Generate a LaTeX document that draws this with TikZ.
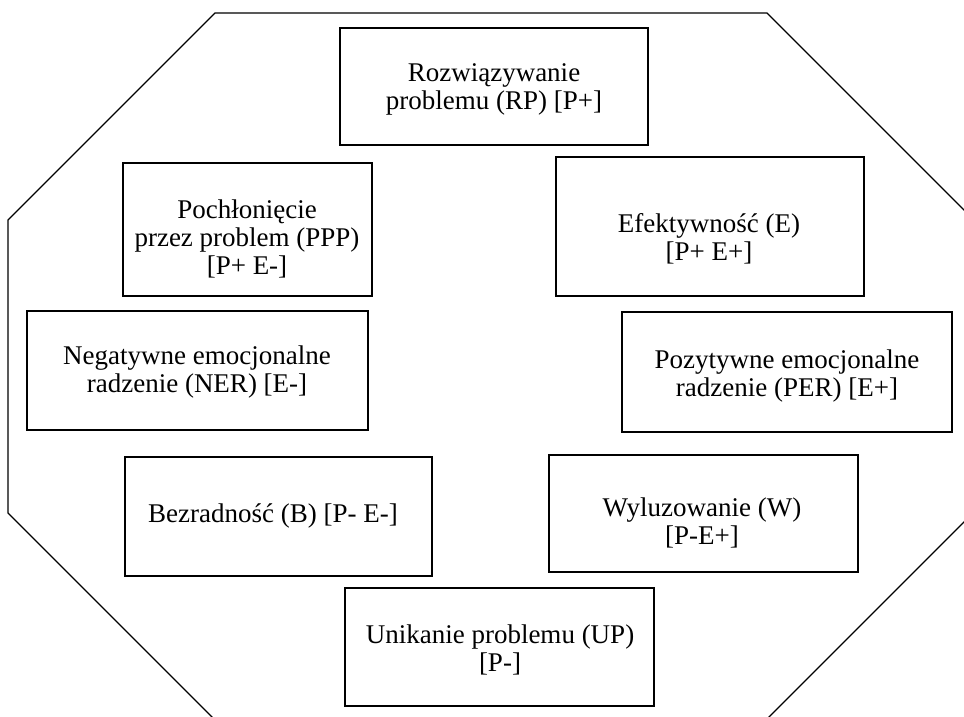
\documentclass[tikz,border=0pt]{standalone}
\usepackage{fontspec}
\setmainfont{Liberation Serif}
\begin{document}
\begin{tikzpicture}[x=1pt,y=-1pt,
  boxst/.style={draw=black,line width=1.5pt,fill=white},
  txt/.style={align=center,inner sep=0pt,font=\fontsize{27}{28}\selectfont},
  octo/.style={draw=black,line width=1.3pt}]
\useasboundingbox (0,0) rectangle (964,716);
\clip (0,0) rectangle (964,716);
% octagon
\coordinate (o1) at (215,13);
\coordinate (o2) at (767,13);
\coordinate (o3) at (974,220);
\coordinate (o4) at (974,512);
\coordinate (o5) at (761,725);
\coordinate (o6) at (220,725);
\coordinate (o7) at (8,513);
\coordinate (o8) at (8,220);
\draw[octo] (o1) -- (o2) -- (o3) -- (o4) -- (o5) -- (o6) -- (o7) -- (o8) -- cycle;
% boxes
\draw[boxst] (340,28) rectangle (648,145);
\draw[boxst] (123,163) rectangle (372,296);
\draw[boxst] (556,157) rectangle (864,296);
\draw[boxst] (27,311) rectangle (368,430);
\draw[boxst] (622,312) rectangle (952,432);
\draw[boxst] (125,457) rectangle (432,576);
\draw[boxst] (549,455) rectangle (858,572);
\draw[boxst] (345,588) rectangle (654,706);
% texts
\node[txt] (rp) at (494,89) {Rozwiązywanie\\problemu (RP) [P+]};
\node[txt] (ppp) at (247,239) {Pochłonięcie\\przez problem (PPP)\\{[P+ E-]}};
\node[txt] (e) at (709,239) {Efektywność (E)\\{[P+ E+]}};
\node[txt] (ner) at (197,372) {Negatywne emocjonalne\\radzenie (NER) [E-]};
\node[txt] (per) at (787,376) {Pozytywne emocjonalne\\radzenie (PER) [E+]};
\node[txt] (b) at (273,516) {Bezradność (B) [P- E-]};
\node[txt] (w) at (702,523) {Wyluzowanie (W)\\{[P-E+]}};
\node[txt] (up) at (500,650) {Unikanie problemu (UP)\\{[P-]}};
\end{tikzpicture}
\end{document}
